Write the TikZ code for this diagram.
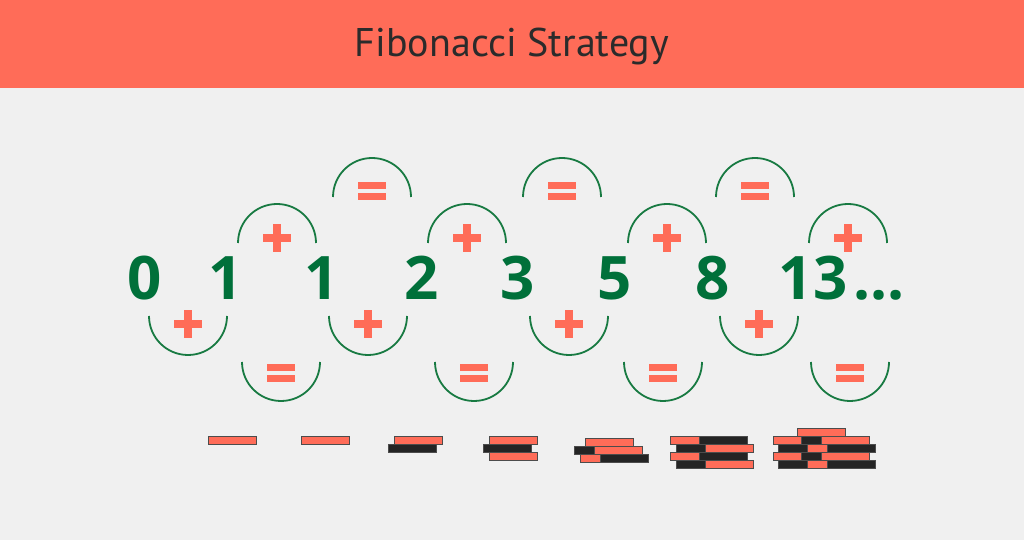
\documentclass[tikz,border=0pt]{standalone}
\usepackage{fontspec}
\usepackage{tikz}
\usetikzlibrary{positioning}
\newfontfamily\numfont{Open Sans}
\newfontfamily\titlefont{PT Sans}
\definecolor{cCoral}{RGB}{255,108,88}
\definecolor{cGreen}{RGB}{0,112,58}
\definecolor{cArc}{RGB}{24,122,66}
\definecolor{cBack}{RGB}{240,240,240}
\definecolor{cChip}{RGB}{36,36,36}
\definecolor{cTitle}{RGB}{43,43,43}
\tikzset{
	fibnum/.style   ={text=cGreen, font=\numfont\bfseries\fontsize{60}{70}\selectfont, anchor=base, inner sep=0pt},
	bow/.style      ={draw=cArc, line width=1.8pt},
	redchip/.style  ={fill=cCoral, draw=black!70, line width=1pt},
	blackchip/.style={fill=cChip, draw=black!70, line width=1pt},
	plussign/.pic   ={\fill[cCoral] (-14,-4) rectangle (14,4); \fill[cCoral] (-4,-14) rectangle (4,14);},
	eqsign/.pic     ={\fill[cCoral] (-14,2) rectangle (14,9); \fill[cCoral] (-14,-9) rectangle (14,-2);},
}
\newcommand{\chip}[3]{\draw[#3] (#1,#2) rectangle ++(48,8);}

\begin{document}
\begin{tikzpicture}[x=1pt, y=1pt]
	% background and header
	\useasboundingbox (0,0) rectangle (1024,540);
	\fill[cBack] (0,0) rectangle (1024,540);
	\fill[cCoral] (0,452) rectangle (1024,540);
	\node[text=cTitle, font=\titlefont\fontsize{40}{48}\selectfont] (title) at (512,493) {Fibonacci Strategy};
	% sequence
	\node[fibnum] (n0) at (145,240) {0};
	\node[fibnum] (n1) at (226,240) {1};
	\node[fibnum] (n2) at (322,240) {1};
	\node[fibnum] (n3) at (422,240) {2};
	\node[fibnum] (n4) at (518,240) {3};
	\node[fibnum] (n5) at (615,240) {5};
	\node[fibnum] (n6) at (713,240) {8};
	\node[fibnum] (n7) at (813,240) {13};
	\node[fibnum, anchor=base west] (dots) at (853,240) {...};
	% lower bows
	\foreach \x in {188,368,569,759} {
		\draw[bow] (\x-39,224) arc[start angle=180, end angle=360, radius=39];
		\pic at (\x,216) {plussign};
	}
	\foreach \x in {281,474,663,850} {
		\draw[bow] (\x-39,178) arc[start angle=180, end angle=360, radius=39];
		\pic at (\x,167) {eqsign};
	}
	% upper bows
	\foreach \x in {277,467,667,848} {
		\draw[bow] (\x-39,297) arc[start angle=180, end angle=0, radius=39];
		\pic at (\x,302) {plussign};
	}
	\foreach \x in {372,562,755} {
		\draw[bow] (\x-39,343) arc[start angle=180, end angle=0, radius=39];
		\pic at (\x,349) {eqsign};
	}
	% chip stacks
	\chip{208}{95}{redchip}
	\chip{301}{95}{redchip}
	\chip{388}{87}{blackchip} \chip{394}{95}{redchip}
	\chip{489}{95}{redchip} \chip{483}{87}{blackchip} \chip{489}{79}{redchip}
	\chip{585}{93}{redchip}
	\chip{574}{85}{blackchip} \chip{594}{85}{redchip}
	\chip{580}{77}{redchip} \chip{600}{77}{blackchip}
	\foreach \y in {95,79} {
		\chip{670}{\y}{redchip} \chip{699}{\y}{blackchip}
		\chip{676}{\y-8}{blackchip} \chip{705}{\y-8}{redchip}
	}
	\chip{797}{103}{redchip}
	\foreach \y in {95,79} {
		\chip{773}{\y}{redchip} \chip{801}{\y}{blackchip} \chip{821}{\y}{redchip}
		\chip{778}{\y-8}{blackchip} \chip{807}{\y-8}{redchip} \chip{827}{\y-8}{blackchip}
	}
\end{tikzpicture}
\end{document}
